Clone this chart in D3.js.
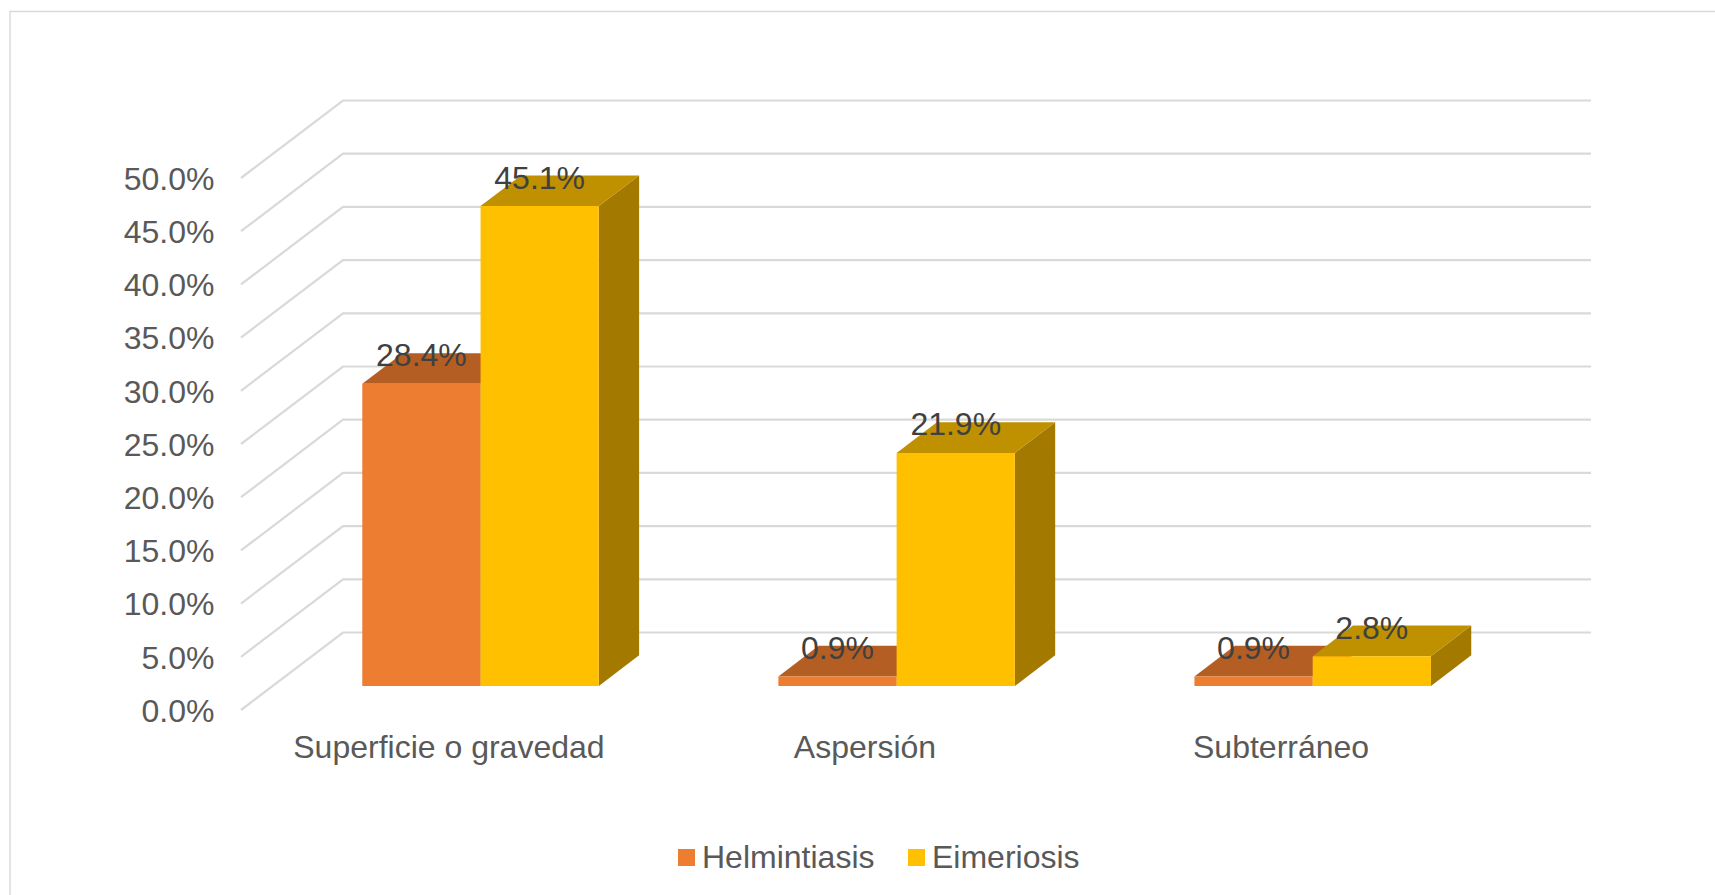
<!DOCTYPE html>
<html>
<head>
<meta charset="utf-8">
<script src="https://cdn.jsdelivr.net/npm/d3@7/dist/d3.min.js"></script>
<style>
html,body{margin:0;padding:0;background:#fff;overflow:hidden}
svg{display:block}
text{font-family:"Liberation Sans",Arial,sans-serif}
</style>
</head>
<body>
<svg id="c" width="1715" height="895"></svg>
<script>
const categories = ["Superficie o gravedad", "Aspersión", "Subterráneo"];
const seriesNames = ["Helmintiasis", "Eimeriosis"];
const helmintiasis = [28.4, 0.9, 0.9];
const eimeriosis = [45.1, 21.9, 2.8];
const yTicks = [0, 5, 10, 15, 20, 25, 30, 35, 40, 45, 50];
const frontColors = ["#ED7D31", "#FFC000"];
const topColors = ["#B55E24", "#BF9000"];
const sideColors = ["#9E5321", "#A37900"];

const svg = d3.select("#c");
const fmt = d => d3.format(".1f")(d) + "%";

const depthX = 102, depthY = 77.5, barT0 = 0.31, barT1 = 0.705;
const x = d3.scaleBand().domain(categories).range([241, 1489]).paddingInner(0.4315).paddingOuter(0.2155);
const s = d3.scaleBand().domain(seriesNames).range([0, x.bandwidth()]);
const y = d3.scaleLinear().domain([0, 50]).range([710, 178]);
const P = (px, v, t) => [px + depthX * t, y(v) - depthY * t];
const line = d3.line();

// frame
svg.append("path").attr("d", "M10,895V11.5H1715").attr("fill", "none").attr("stroke", "#D9D9D9").attr("stroke-width", 1.4);

// gridlines
svg.append("g").selectAll("path").data(yTicks).join("path")
  .attr("d", v => line([P(x.range()[0], v, 0), P(x.range()[0], v, 1), P(x.range()[1], v, 1)]))
  .attr("fill", "none").attr("stroke", "#D9D9D9").attr("stroke-width", 2.2);

// bars
const rows = [helmintiasis, eimeriosis].flatMap((vals, si) =>
  vals.map((v, ci) => ({ v, si, name: seriesNames[si], cat: categories[ci] })));
const bars = svg.append("g").selectAll("g").data(rows).join("g");
const xL = d => x(d.cat) + s(d.name);
const xR = d => xL(d) + s.bandwidth();
bars.append("path").attr("fill", d => sideColors[d.si]).attr("d", d => line([
  P(xR(d), 0, barT0), P(xR(d), 0, barT1), P(xR(d), d.v, barT1), P(xR(d), d.v, barT0)]) + "Z");
bars.append("path").attr("fill", d => topColors[d.si]).attr("d", d => line([
  P(xL(d), d.v, barT0), P(xR(d), d.v, barT0), P(xR(d), d.v, barT1), P(xL(d), d.v, barT1)]) + "Z");
bars.append("path").attr("fill", d => frontColors[d.si]).attr("d", d => line([
  P(xL(d), 0, barT0), P(xR(d), 0, barT0), P(xR(d), d.v, barT0), P(xL(d), d.v, barT0)]) + "Z");

// data labels
svg.append("g").selectAll("text").data(rows).join("text")
  .attr("x", d => P(xL(d) + s.bandwidth() / 2, d.v, barT0)[0])
  .attr("y", d => P(xL(d), d.v, barT0)[1] - 17.5)
  .attr("text-anchor", "middle").attr("font-size", 32).attr("fill", "#404040")
  .text(d => fmt(d.v));

// axes
const yAxis = svg.append("g").attr("transform", "translate(214.5,0)")
  .call(d3.axisLeft(y).tickValues(yTicks).tickFormat(fmt).tickSize(0).tickPadding(0));
yAxis.select(".domain").remove();
yAxis.selectAll("text").attr("font-size", 32).attr("fill", "#595959").attr("dy", "0.35em");

const xAxis = svg.append("g").attr("transform", "translate(0,729)")
  .call(d3.axisBottom(x).tickSize(0).tickPadding(0));
xAxis.select(".domain").remove();
xAxis.selectAll("text").attr("font-size", 32).attr("fill", "#595959").attr("dy", "0.9em");
svg.selectAll("g").filter(function(){return this.hasAttribute("font-family");}).attr("font-family", null);

// legend
const legendX = d3.scaleOrdinal().domain(seriesNames).range([678, 908]);
const leg = svg.append("g").selectAll("g").data(seriesNames).join("g")
  .attr("transform", d => `translate(${legendX(d)},849)`);
leg.append("rect").attr("width", 17).attr("height", 17).attr("fill", (d, i) => frontColors[i]);
leg.append("text").attr("x", 24).attr("y", 19).attr("font-size", 32).attr("fill", "#595959").text(d => d);
</script>
</body>
</html>
